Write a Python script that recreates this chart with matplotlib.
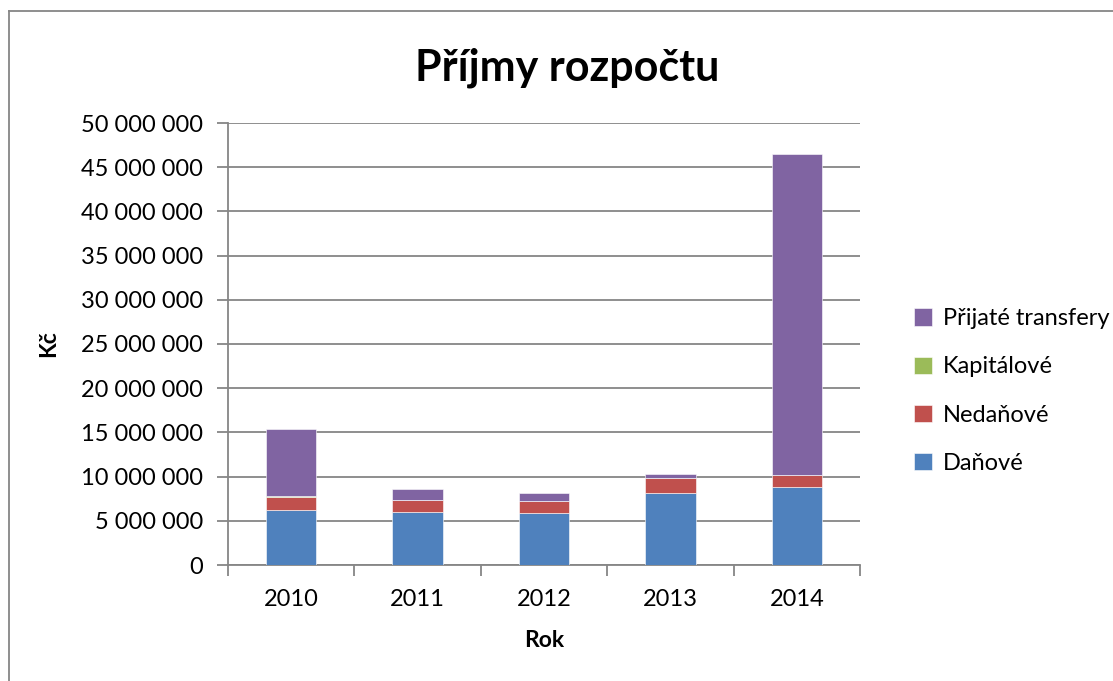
import matplotlib.pyplot as plt
import numpy as np
from matplotlib.lines import Line2D
from matplotlib.ticker import FuncFormatter

plt.rcParams["font.family"] = ["Lato", "DejaVu Sans"]

years = ["2010", "2011", "2012", "2013", "2014"]
danove = [6.20e6, 6.03e6, 5.92e6, 8.18e6, 8.86e6]
nedanove = [1.45e6, 1.36e6, 1.28e6, 1.70e6, 1.28e6]
kapitalove = [0.15e6, 0.0, 0.0, 0.0, 0.05e6]
transfery = [7.60e6, 1.24e6, 0.94e6, 0.45e6, 36.30e6]

series = [
    ("Daňové", danove, "#4F81BD"),
    ("Nedaňové", nedanove, "#C0504D"),
    ("Kapitálové", kapitalove, "#9BBB59"),
    ("Přijaté transfery", transfery, "#8064A2"),
]

W, H = 1113, 681
fig = plt.figure(figsize=(W / 100, H / 100), dpi=100)
ax = fig.add_axes([228 / W, 1 - 565 / H, (860 - 228) / W, (565 - 123) / H])

x = np.arange(len(years))
bottom = np.zeros(len(years))
for name, vals, color in series:
    ax.bar(x, vals, width=0.4, bottom=bottom, color=color, label=name,
           edgecolor="white", linewidth=0.4, zorder=3)
    bottom += np.array(vals)

ax.set_xlim(-0.5, len(years) - 0.5)
ax.set_ylim(0, 50e6)
ax.set_yticks(np.arange(0, 50e6 + 1, 5e6))
ax.yaxis.set_major_formatter(FuncFormatter(lambda v, p: f"{int(v):,}".replace(",", " ")))
ax.grid(axis="y", color="#868686", linewidth=1.3, zorder=0)

ax.set_xticks(x)
ax.set_xticklabels(years)
ax.set_xticks(np.arange(-0.5, len(years)), minor=True)
ax.tick_params(axis="x", which="major", length=0, pad=17, labelsize=17)
ax.tick_params(axis="x", which="minor", length=8, width=1.3, color="#868686")
ax.tick_params(axis="y", length=8, width=1.3, color="#868686", labelsize=17, pad=10)

for s in ["top", "right"]:
    ax.spines[s].set_visible(False)
for s in ["left", "bottom"]:
    ax.spines[s].set_color("#868686")
    ax.spines[s].set_linewidth(1.3)

ax.set_xlabel("Rok", fontsize=16.5, fontweight="bold", labelpad=15)
ax.set_ylabel("Kč", fontsize=16.5, fontweight="bold", labelpad=16)
fig.text(567 / W, 1 - 68 / H, "Příjmy rozpočtu", fontsize=31, fontweight="bold",
         ha="center", va="center")

handles, labels = ax.get_legend_handles_labels()
ax.legend(handles[::-1], labels[::-1], loc="center left", bbox_to_anchor=(893 / W, 1 - 391 / H),
          bbox_transform=fig.transFigure, frameon=False, fontsize=17,
          handlelength=0.75, handleheight=0.75, handletextpad=0.45, labelspacing=1.15)

# outer chart border (left and top edges visible)
fig.add_artist(Line2D([8.5 / W, 8.5 / W], [0, 1 - 11 / H], color="#868686", linewidth=1.3,
                      transform=fig.transFigure))
fig.add_artist(Line2D([8.5 / W, 1], [1 - 11 / H, 1 - 11 / H], color="#868686", linewidth=1.3,
                      transform=fig.transFigure))

fig.savefig("out.png", dpi=100)
